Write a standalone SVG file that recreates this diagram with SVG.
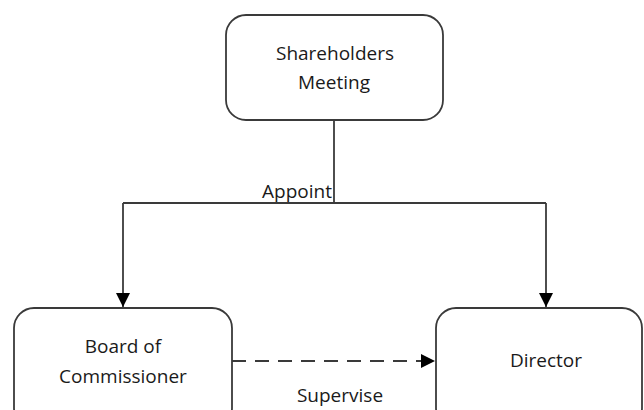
<svg xmlns="http://www.w3.org/2000/svg" width="644" height="410" viewBox="0 0 644 410">
<style>
.box{fill:#fff;stroke:#3a3a3a;stroke-width:1.8}
.t{font-family:"Open Sans","Liberation Sans",sans-serif;font-size:19px;fill:#1a1a1a;text-anchor:middle}
.ln{fill:none;stroke:#3a3a3a;stroke-width:1.8}
</style>
<defs>
<marker id="ah2" viewBox="0 0 14 14" refX="14" refY="7" markerWidth="14" markerHeight="14" markerUnits="userSpaceOnUse" orient="auto">
<path d="M0,0 L14,7 L0,14 z" fill="#000"/>
</marker>
</defs>
<g id="connectors">
<path class="ln" d="M334,120 V203"/>
<path class="ln" d="M123,203 H546"/>
<path class="ln" d="M123,203 V307" marker-end="url(#ah2)"/>
<path class="ln" d="M546,203 V307" marker-end="url(#ah2)"/>
<path class="ln" d="M232,361 H435" stroke-dasharray="14,9" marker-end="url(#ah2)"/>
<text class="t" x="297" y="198">Appoint</text>
<text class="t" x="340" y="402">Supervise</text>
</g>
<g id="shareholders">
<rect class="box" x="226" y="15" width="217" height="105" rx="20"/>
<text class="t" x="335" y="60">Shareholders</text>
<text class="t" x="334" y="89">Meeting</text>
</g>
<g id="board">
<rect class="box" x="14" y="308" width="218" height="120" rx="20"/>
<text class="t" x="123" y="353">Board of</text>
<text class="t" x="123" y="383">Commissioner</text>
</g>
<g id="director">
<rect class="box" x="436" y="308" width="206" height="120" rx="20"/>
<text class="t" x="546" y="367">Director</text>
</g>
</svg>
